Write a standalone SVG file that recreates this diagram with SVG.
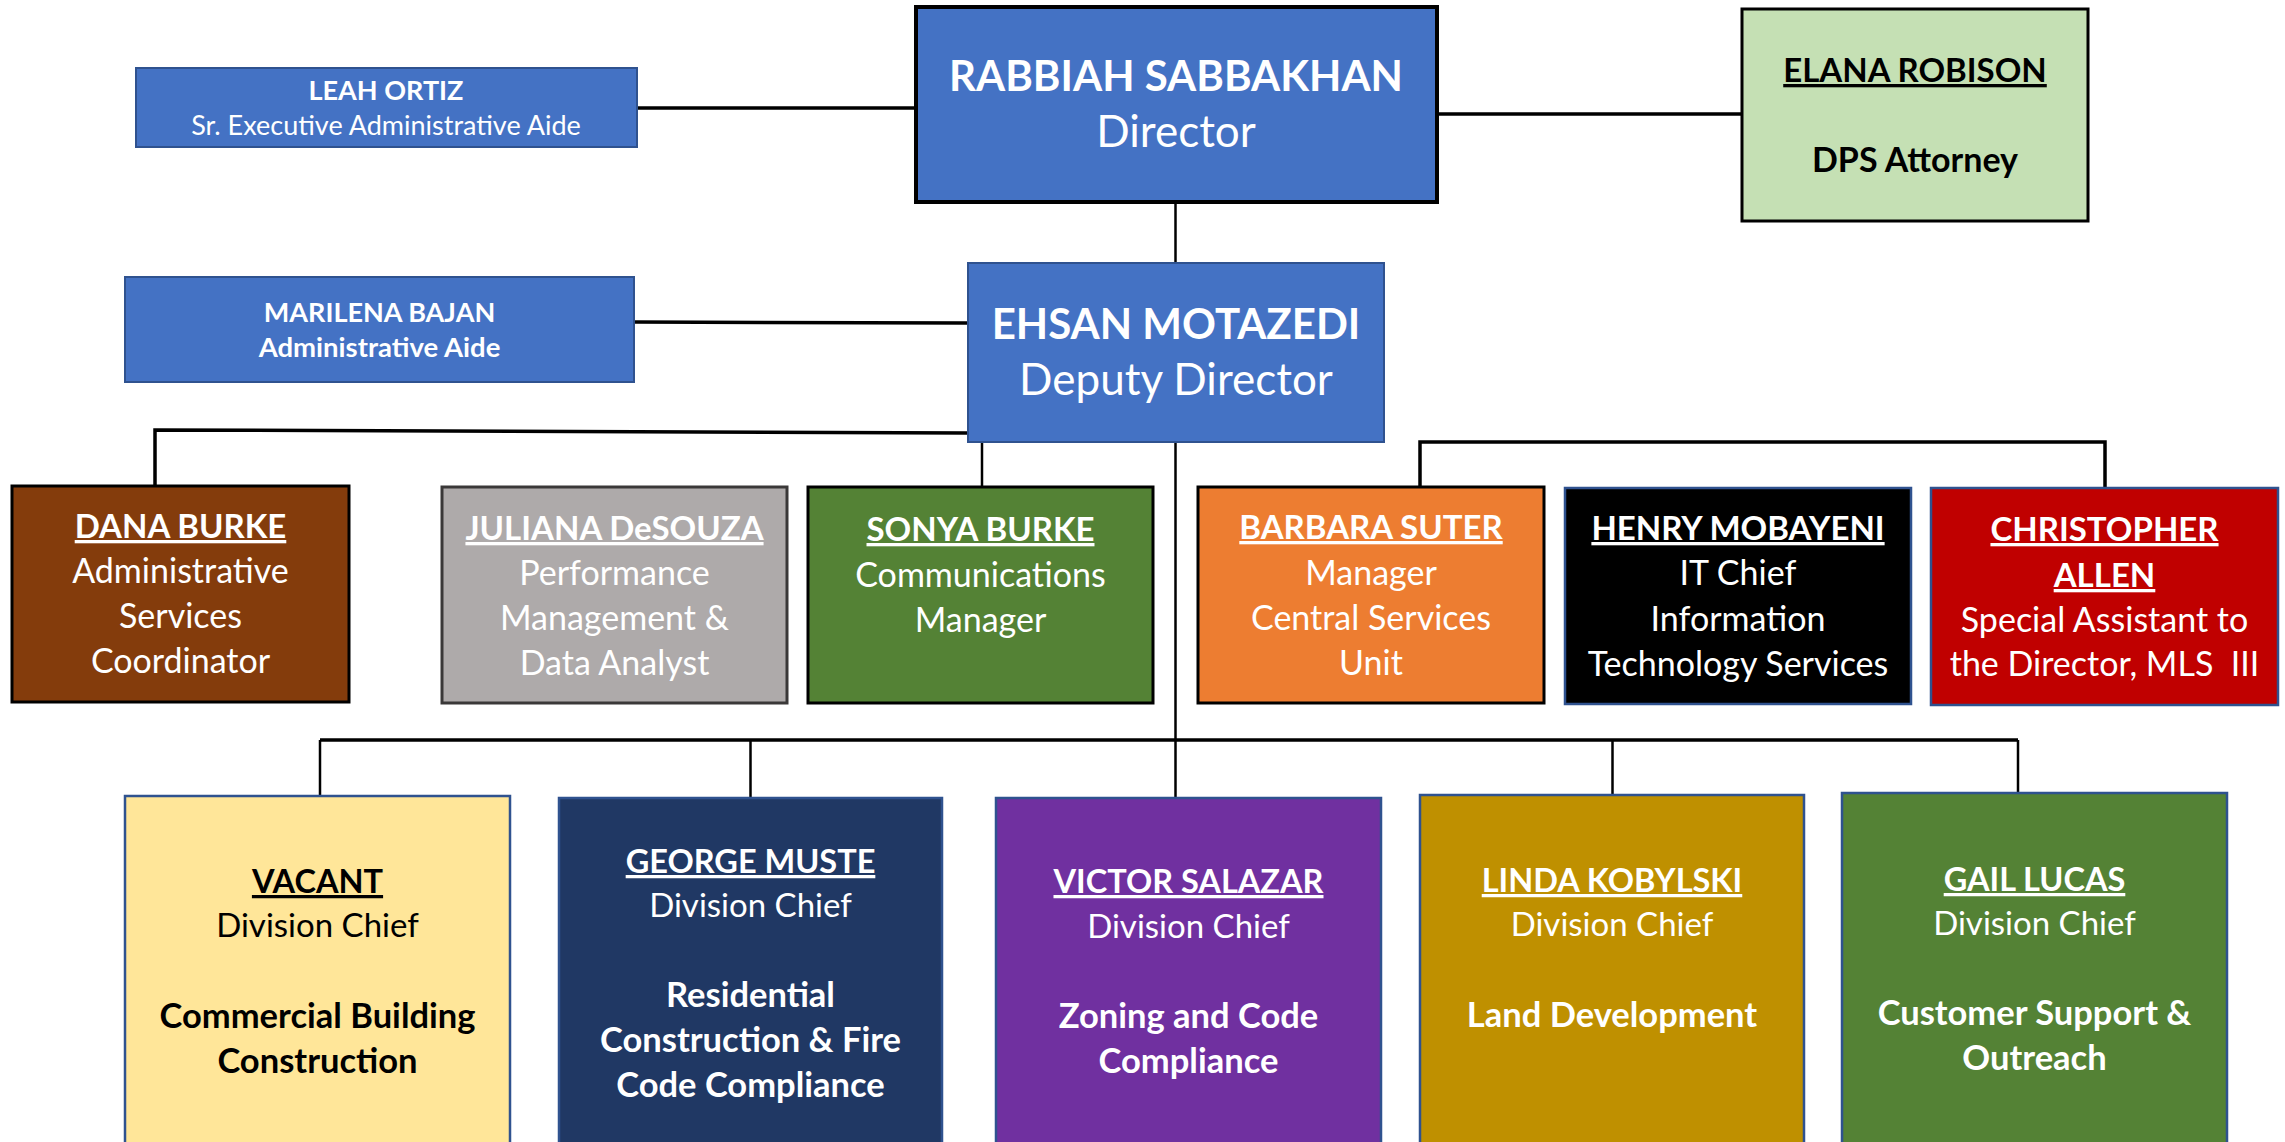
<svg xmlns="http://www.w3.org/2000/svg" width="2285" height="1142" viewBox="0 0 2285 1142">
<style>
text{font-family:Lato,"Open Sans","Liberation Sans",sans-serif;text-anchor:middle;fill:#fff}
.b{font-weight:bold}
.u{text-decoration:underline}
.k{fill:#000}
.blue{fill:#4472C4;stroke:#2F528F;stroke-width:2}
.blk{stroke:#000;stroke-width:3}
.bb{stroke:#2F528F;stroke-width:2.5}
.big{font-size:44px}
.bigb{font-size:42px;font-weight:bold}
.sm{font-size:27px}
.md{font-size:34px}
.mdb{font-size:33px;font-weight:bold;text-decoration:underline}
.dv{font-size:33px}
.dvb{font-size:34.5px;font-weight:bold}
.dvn{font-size:32.5px;font-weight:bold;text-decoration:underline}
#connectors line,#connectors polyline{stroke:#000;fill:none}
</style>
<rect width="2285" height="1142" fill="#fff"/>
<g id="connectors">
<line x1="637" y1="108" x2="916" y2="108" stroke-width="3.5"/>
<line x1="1437" y1="114" x2="1742" y2="114" stroke-width="3.5"/>
<line x1="1175.5" y1="202" x2="1175.5" y2="263" stroke-width="2.5"/>
<line x1="634" y1="322" x2="968" y2="323" stroke-width="3.5"/>
<polyline points="968,433 155,430 155,490" stroke-width="3.5"/>
<line x1="982" y1="442" x2="982" y2="487" stroke-width="2.5"/>
<line x1="1175.5" y1="442" x2="1175.5" y2="798" stroke-width="2.5"/>
<polyline points="1420,487 1420,442 2105,442 2105,488" stroke-width="3.5"/>
<line x1="320" y1="740" x2="2018" y2="740" stroke-width="3.5"/>
<line x1="320" y1="740" x2="320" y2="796" stroke-width="2.5"/>
<line x1="750.5" y1="740" x2="750.5" y2="798" stroke-width="2.5"/>
<line x1="1612.5" y1="740" x2="1612.5" y2="795" stroke-width="2.5"/>
<line x1="2018" y1="740" x2="2018" y2="793" stroke-width="2.5"/>
</g>
<g id="leah">
<rect class="blue" x="136" y="68" width="501" height="79"/>
<text class="sm b" x="386" y="100">LEAH ORTIZ</text>
<text class="sm" x="386" y="135">Sr. Executive Administrative Aide</text>
</g>
<g id="director">
<rect fill="#4472C4" stroke="#000" stroke-width="4" x="916" y="7" width="521" height="195"/>
<text class="bigb" x="1176" y="91">RABBIAH SABBAKHAN</text>
<text class="big" x="1176" y="147">Director</text>
</g>
<g id="elana">
<rect fill="#C5E0B4" class="blk" x="1742" y="9" width="346" height="212"/>
<text class="mdb k" x="1915" y="82">ELANA ROBISON</text>
<text class="md b k" x="1915" y="172">DPS Attorney</text>
</g>
<g id="marilena">
<rect class="blue" x="125" y="277" width="509" height="105"/>
<text class="sm b" x="379.5" y="322">MARILENA BAJAN</text>
<text class="sm b" x="379.5" y="357" style="font-size:27.5px">Administrative Aide</text>
</g>
<g id="deputy">
<rect class="blue" x="968" y="263" width="416" height="179"/>
<text class="bigb" x="1176" y="339">EHSAN MOTAZEDI</text>
<text class="big" x="1176" y="395">Deputy Director</text>
</g>
<g id="dana">
<rect fill="#843C0C" class="blk" x="12" y="486" width="337" height="216"/>
<text class="mdb" x="180.5" y="538">DANA BURKE</text>
<text class="md" x="180.5" y="583">Administrative</text>
<text class="md" x="180.5" y="628">Services</text>
<text class="md" x="180.5" y="673">Coordinator</text>
</g>
<g id="juliana">
<rect fill="#AEAAAA" stroke="#3A3838" stroke-width="3" x="442" y="487" width="345" height="216"/>
<text class="mdb" x="614.5" y="540">JULIANA DeSOUZA</text>
<text class="md" x="614.5" y="585">Performance</text>
<text class="md" x="614.5" y="630">Management &amp;</text>
<text class="md" x="614.5" y="675">Data Analyst</text>
</g>
<g id="sonya">
<rect fill="#548235" class="blk" x="808" y="487" width="345" height="216"/>
<text class="mdb" x="980.5" y="541">SONYA BURKE</text>
<text class="md" x="980.5" y="587">Communications</text>
<text class="md" x="980.5" y="632">Manager</text>
</g>
<g id="barbara">
<rect fill="#ED7D31" class="blk" x="1198" y="487" width="346" height="216"/>
<text class="mdb" x="1371" y="539">BARBARA SUTER</text>
<text class="md" x="1371" y="585">Manager</text>
<text class="md" x="1371" y="630">Central Services</text>
<text class="md" x="1371" y="675">Unit</text>
</g>
<g id="henry">
<rect fill="#000" class="bb" x="1565" y="488" width="346" height="216"/>
<text class="mdb" x="1738" y="540">HENRY MOBAYENI</text>
<text class="md" x="1738" y="585">IT Chief</text>
<text class="md" x="1738" y="631">Information</text>
<text class="md" x="1738" y="676">Technology Services</text>
</g>
<g id="christopher">
<rect fill="#C00000" class="bb" x="1931" y="488" width="347" height="217"/>
<text class="mdb" x="2104.5" y="541">CHRISTOPHER</text>
<text class="mdb" x="2104.5" y="587">ALLEN</text>
<text class="md" x="2104.5" y="632">Special Assistant to</text>
<text class="md" x="2104.5" y="676" xml:space="preserve">the Director, MLS  III</text>
</g>
<g id="vacant">
<rect fill="#FFE699" class="bb" x="125" y="796" width="385" height="360"/>
<text class="dvn k" x="317.5" y="893">VACANT</text>
<text class="dv k" x="317.5" y="937">Division Chief</text>
<text class="dvb k" x="317.5" y="1028">Commercial Building</text>
<text class="dvb k" x="317.5" y="1073">Construction</text>
</g>
<g id="george">
<rect fill="#203864" class="bb" x="559" y="798" width="383" height="360"/>
<text class="dvn" x="750.5" y="873">GEORGE MUSTE</text>
<text class="dv" x="750.5" y="917">Division Chief</text>
<text class="dvb" x="750.5" y="1007">Residential</text>
<text class="dvb" x="750.5" y="1052">Construction &amp; Fire</text>
<text class="dvb" x="750.5" y="1097">Code Compliance</text>
</g>
<g id="victor">
<rect fill="#7030A0" class="bb" x="996" y="798" width="385" height="360"/>
<text class="dvn" x="1188.5" y="893">VICTOR SALAZAR</text>
<text class="dv" x="1188.5" y="938">Division Chief</text>
<text class="dvb" x="1188.5" y="1028">Zoning and Code</text>
<text class="dvb" x="1188.5" y="1073">Compliance</text>
</g>
<g id="linda">
<rect fill="#BF9000" class="bb" x="1420" y="795" width="384" height="360"/>
<text class="dvn" x="1612" y="892">LINDA KOBYLSKI</text>
<text class="dv" x="1612" y="936">Division Chief</text>
<text class="dvb" x="1612" y="1027">Land Development</text>
</g>
<g id="gail">
<rect fill="#548235" class="bb" x="1842" y="793" width="385" height="360"/>
<text class="dvn" x="2034.5" y="891">GAIL LUCAS</text>
<text class="dv" x="2034.5" y="935">Division Chief</text>
<text class="dvb" x="2034.5" y="1025">Customer Support &amp;</text>
<text class="dvb" x="2034.5" y="1070">Outreach</text>
</g>
</svg>
